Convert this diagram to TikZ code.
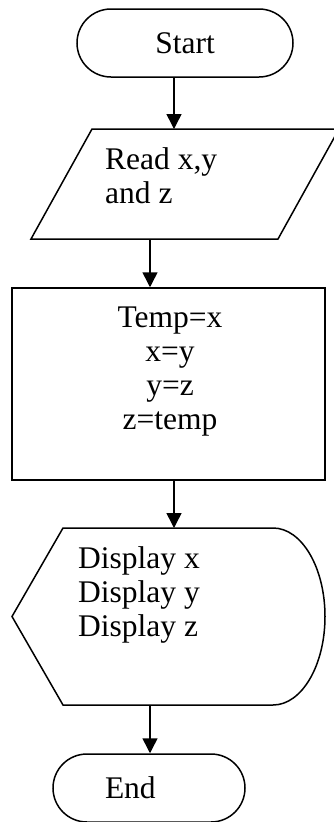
\documentclass[tikz,border=0pt]{standalone}
\usepackage{fontspec}
\setmainfont{Liberation Serif}
\usetikzlibrary{calc}
\usetikzlibrary{arrows.meta}

\tikzset{
    flow/.style={black, line width=1.5pt},
    term/.style={flow, draw, rounded corners=34pt, minimum width=216pt, minimum height=68pt},
    frame/.style={draw=none, inner sep=0pt, outer sep=0pt},
    proc/.style={flow, draw, minimum width=313pt, minimum height=192pt},
    txt/.style={inner sep=0pt},
    arr/.style={flow, -{Triangle[length=15pt, width=15pt]}}
}

\begin{document}
\begin{tikzpicture}[x=1pt, y=-1pt, every node/.style={font=\fontsize{31.5}{34}\selectfont}]
            \useasboundingbox (0,0) rectangle (334,822);

            % columns the arrows run in
            \coordinate (cola) at (174,0);
            \coordinate (colb) at (150,0);

            \node[term] (start) at (185,43) {Start};

            % input: parallelogram
            \node[frame, minimum width=308pt, minimum height=110pt] (read) at (185,184) {};
            \draw[flow] ($(read.north west)+(61,0)$) -- (read.north east)
                -- ($(read.south east)+(-61,0)$) -- (read.south west) -- cycle;
            \node[txt, anchor=west, align=left] (readtxt) at (105,176) {Read x,y\\and z};

            \node[proc] (swap) at (168.5,384) {};
            \node[txt, align=center] (swaptxt) at (170,372) {Temp=x\\x=y\\y=z\\z=temp};

            % output: display shape
            \node[frame, minimum width=313pt, minimum height=177pt] (show) at (168.5,616.5) {};
            \draw[flow] (show.west) -- ($(show.north west)+(51,0)$) -- ($(show.north east)+(-52,0)$)
                arc[start angle=-90, end angle=90, x radius=52, y radius=88.5]
                -- ($(show.south west)+(51,0)$) -- cycle;
            \node[txt, anchor=west, align=left] (showtxt) at (78,595) {Display x\\Display y\\Display z};

            \node[term, minimum width=192pt, text width=88pt, align=left] (end) at (149,788) {End};

            \draw[arr] (start.south -| cola) -- (read.north -| cola);
            \draw[arr] (read.south -| colb) -- (swap.north -| colb);
            \draw[arr] (swap.south -| cola) -- (show.north -| cola);
            \draw[arr] (show.south -| colb) -- (end.north -| colb);
\end{tikzpicture}
\end{document}
